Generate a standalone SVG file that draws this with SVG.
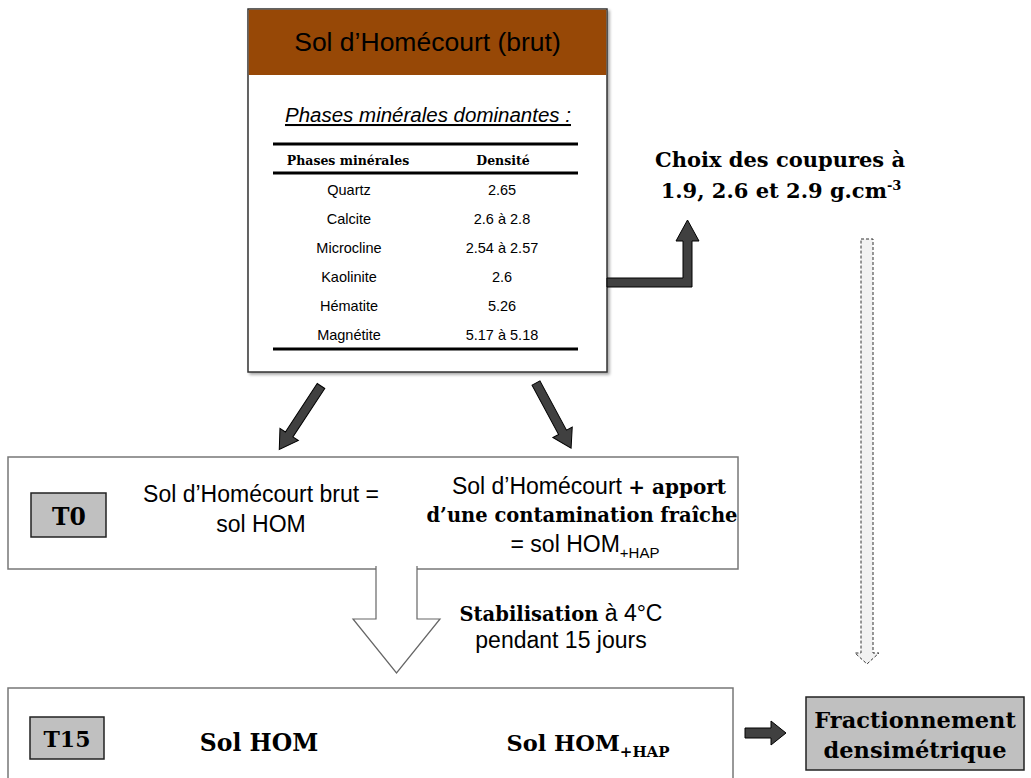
<svg xmlns="http://www.w3.org/2000/svg" width="1031" height="778" viewBox="0 0 1031 778">
<style>
.sans{font-family:"Liberation Sans",Arial,sans-serif;fill:#000}
.bs{font-family:"DejaVu Serif","Liberation Serif",serif;font-weight:bold;fill:#000}
.rule{stroke:#000;stroke-width:3}
.dark{fill:#404040;stroke:#000;stroke-width:1}
.lbl{fill:#c0c0c0;stroke:#222;stroke-width:1.5}
.frame{fill:#fff;stroke:#777;stroke-width:1.5}
</style>
<defs>
<filter id="sh" x="-5%" y="-5%" width="110%" height="110%">
<feDropShadow dx="2" dy="2" stdDeviation="1.5" flood-color="#000" flood-opacity="0.35"/>
</filter>
</defs>
<rect width="1031" height="778" fill="#fff"/>

<g id="sol-brut">
<rect x="248" y="9" width="359" height="363" fill="#fff" stroke="#333" stroke-width="1.5" filter="url(#sh)"/>
<rect x="248.75" y="9.75" width="357.5" height="65.25" fill="#974806"/>
<text class="sans" x="427.5" y="51" font-size="26.5" text-anchor="middle">Sol d’Homécourt (brut)</text>
<text class="sans" x="428" y="122" font-size="20.5" font-style="italic" text-anchor="middle" text-decoration="underline">Phases minérales dominantes :</text>
<line class="rule" x1="273" y1="144" x2="578" y2="144"/>
<line class="rule" x1="273" y1="173" x2="578" y2="173"/>
<line class="rule" x1="273" y1="349" x2="578" y2="349"/>
<text class="bs" x="348" y="165" font-size="12.5" text-anchor="middle">Phases minérales</text>
<text class="bs" x="503" y="165" font-size="12.5" text-anchor="middle">Densité</text>
<g class="sans" font-size="14.5" text-anchor="middle">
<text x="349" y="195">Quartz</text><text x="502" y="195">2.65</text>
<text x="349" y="224">Calcite</text><text x="502" y="224">2.6 à 2.8</text>
<text x="349" y="253">Microcline</text><text x="502" y="253">2.54 à 2.57</text>
<text x="349" y="282">Kaolinite</text><text x="502" y="282">2.6</text>
<text x="349" y="311">Hématite</text><text x="502" y="311">5.26</text>
<text x="349" y="340">Magnétite</text><text x="502" y="340">5.17 à 5.18</text>
</g>
</g>

<g id="choix">
<text class="bs" x="780" y="167" font-size="21" text-anchor="middle">Choix des coupures à</text>
<text class="bs" x="781" y="198" font-size="21" text-anchor="middle">1.9, 2.6 et 2.9 g.cm<tspan font-size="13" dy="-8">-3</tspan></text>
</g>

<g id="t0">
<rect class="frame" x="8" y="457" width="730" height="112"/>
<rect class="lbl" x="31" y="493" width="75" height="44"/>
<text class="bs" x="69" y="525" font-size="23.5" text-anchor="middle">T0</text>
<text class="sans" x="261" y="502" font-size="23" text-anchor="middle">Sol d’Homécourt brut =</text>
<text class="sans" x="261" y="532" font-size="23" text-anchor="middle">sol HOM</text>
<text x="589" y="494" text-anchor="middle"><tspan class="sans" font-size="23">Sol d’Homécourt </tspan><tspan class="bs" font-size="20">+ apport</tspan></text>
<text class="bs" x="582" y="522" font-size="19.5" text-anchor="middle">d’une contamination fraîche</text>
<text class="sans" x="585" y="552" font-size="23" text-anchor="middle">= sol HOM<tspan font-size="15" dy="6">+HAP</tspan></text>
</g>

<g id="stabilisation">
<text x="561" y="621" text-anchor="middle"><tspan class="bs" font-size="19.5">Stabilisation</tspan><tspan class="sans" font-size="23"> à 4°C</tspan></text>
<text class="sans" x="561" y="648" font-size="23" text-anchor="middle">pendant 15 jours</text>
</g>

<g id="t15">
<rect class="frame" x="8" y="688" width="725" height="100"/>
<rect class="lbl" x="30" y="717" width="74" height="42"/>
<text class="bs" x="67" y="747" font-size="22" text-anchor="middle">T15</text>
<text class="bs" x="259" y="751" font-size="23.5" text-anchor="middle">Sol HOM</text>
<text class="bs" x="588" y="751" font-size="22.5" text-anchor="middle">Sol HOM<tspan font-size="15" dy="6">+HAP</tspan></text>
</g>

<g id="fractionnement">
<rect class="lbl" x="806" y="697" width="218" height="73" stroke="#333"/>
<text class="bs" x="915" y="728" font-size="22.5" text-anchor="middle">Fractionnement</text>
<text class="bs" x="915" y="758" font-size="22.5" text-anchor="middle">densimétrique</text>
</g>

<g id="connectors">
<path class="dark" d="M607,278 H683 V241 H676 L687.5,220 L699,241 H692 V287 H607 Z"/>
<path class="dark" transform="translate(321,386) rotate(123.3)" d="M0,-4.5 H58 V-11 L76,0 L58,11 V4.5 H0 Z"/>
<path class="dark" transform="translate(536,383) rotate(61.7)" d="M0,-4.5 H56 V-11 L74,0 L56,11 V4.5 H0 Z"/>
<path d="M861,239 H873 V653 H879 L867,664 L855,653 H861 Z" fill="#f2f2f2" stroke="#333" stroke-width="1" stroke-dasharray="3,2"/>
<path d="M376,566 V619 H353 L396.5,673 L440,619 H417 V566" fill="#fff" stroke="#666" stroke-width="1.2"/>
<path class="dark" d="M745,728 H771 V721 L786,733 L771,745 V738 H745 Z"/>
</g>
</svg>
